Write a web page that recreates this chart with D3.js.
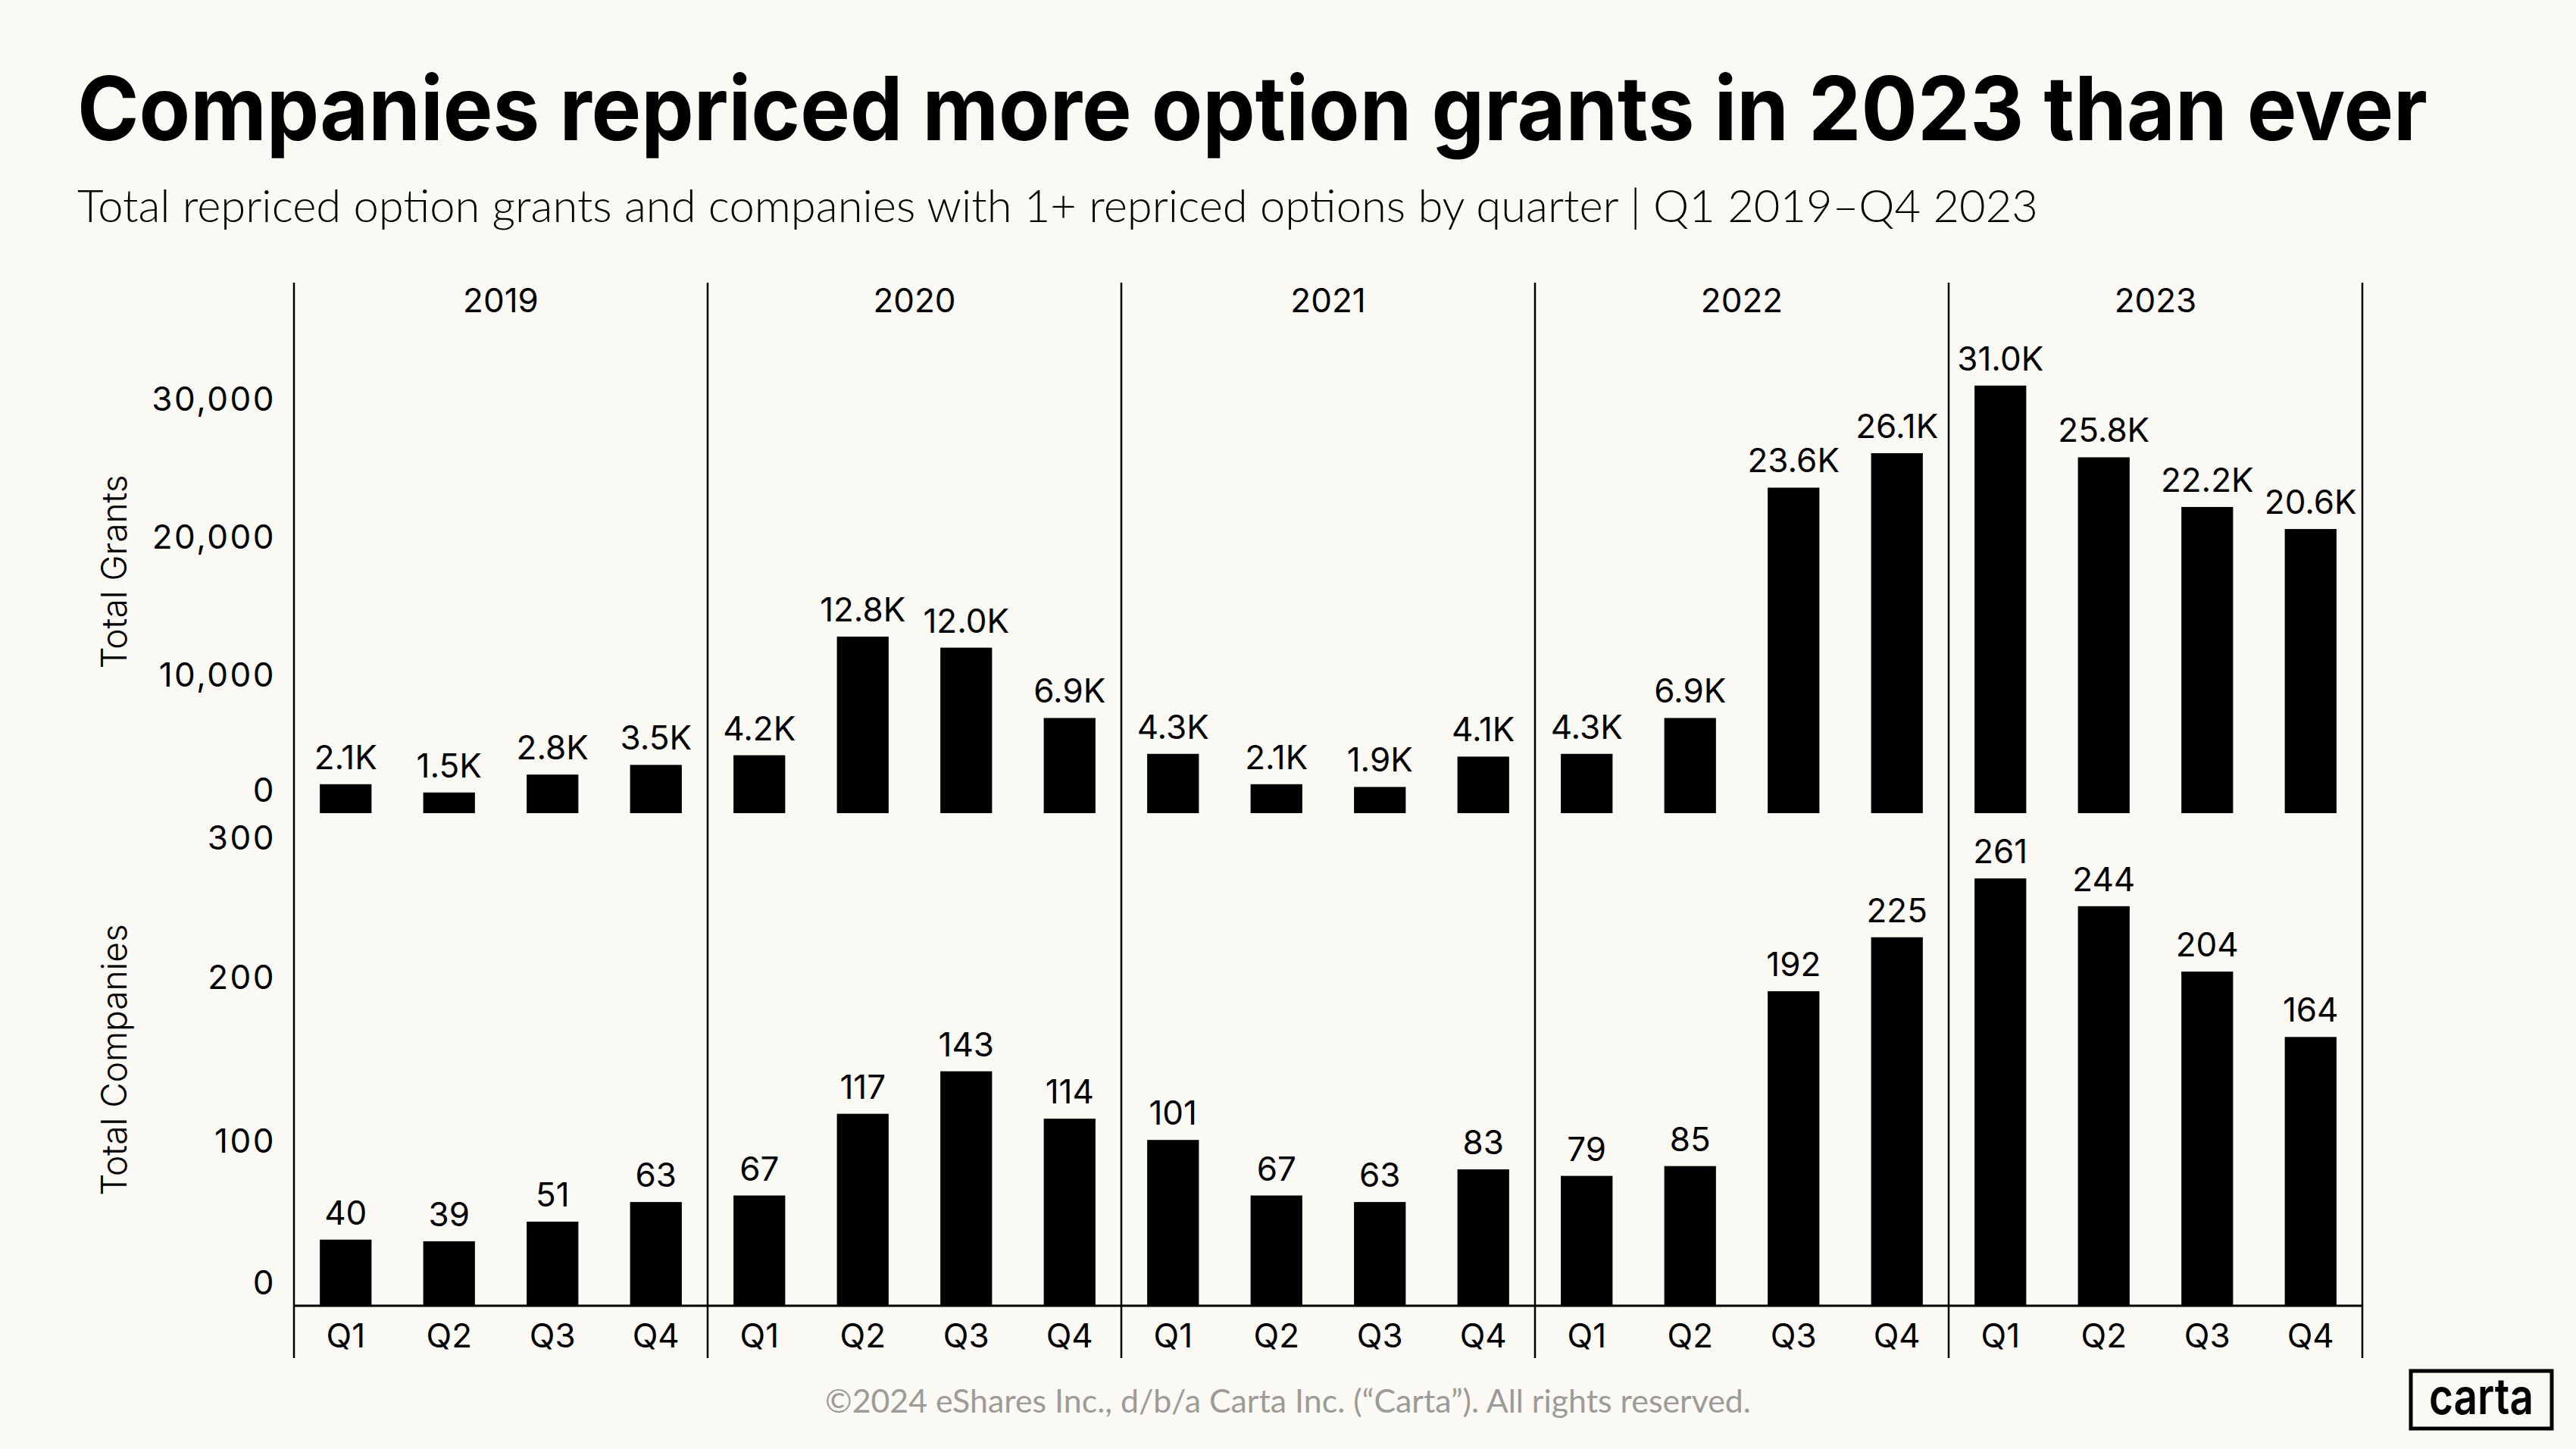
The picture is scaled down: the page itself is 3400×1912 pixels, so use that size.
<!DOCTYPE html>
<html>
<head>
<meta charset="utf-8">
<script src="https://cdn.jsdelivr.net/npm/d3@7"></script>
<style>
  body { margin: 0; background: #fbf9f3; }
  svg { display: block; }
  text { font-family: Inter, "DejaVu Sans", sans-serif; fill: #000; }
</style>
</head>
<body>
<svg id="chart" width="3400" height="1912"></svg>
<script>
"use strict";

const W = 3400;
const H = 1912;

const leftX = 388;
const rightX = 3118;
const topLineY = 373;
const grantsBaseY = 1073;
const grantsTopY = 436;
const compBaseY = 1722;
const compTopY = 1075;
const bottomLineY = 1792;

// data
const years = ["2019", "2020", "2021", "2022", "2023"];
const quarters = ["Q1", "Q2", "Q3", "Q4"];
const grants = [2100, 1500, 2800, 3500,
                4200, 12800, 12000, 6900,
                4300, 2100, 1900, 4100,
                4300, 6900, 23600, 26100,
                31000, 25800, 22200, 20600];
const companies = [40, 39, 51, 63,
                   67, 117, 143, 114,
                   101, 67, 63, 83,
                   79, 85, 192, 225,
                   261, 244, 204, 164];
const grantTicks = [0, 10000, 20000, 30000];
const companyTicks = [0, 100, 200, 300];

const titleText = "Companies repriced more option grants in 2023 than ever";
const subtitleText = "Total repriced option grants and companies with 1+ repriced options by quarter  |  Q1 2019\u2013Q4 2023";
const footerText = "\u00a92024 eShares Inc., d/b/a Carta Inc. (\u201cCarta\u201d). All rights reserved.";

window.addEventListener("load", init);

var xYear, xQuarter, yGrants, yCompanies;

function rows() {
    let out = [];
    years.forEach(function(y, i) {
        quarters.forEach(function(q, j) {
            let k = i * 4 + j;
            out.push({year: y, quarter: q, grants: grants[k], companies: companies[k]});
        });
    });
    return out;
}

function barX(d) {
    return xYear(d.year) + xQuarter(d.quarter);
}

// squeeze or stretch a text to a measured width
function fitText(sel, width) {
    let w = sel.node().getComputedTextLength();
    if (Math.abs(w - width) > 2) {
        sel.attr("textLength", width).attr("lengthAdjust", "spacingAndGlyphs");
    }
}

function drawHeader(svg) {
    let t = svg.append("text")
        .attr("x", 102)
        .attr("y", 185)
        .style("font-size", "117px")
        .style("font-weight", 700)
        .text(titleText);
    fitText(t, 3102);

    let s = svg.append("text")
        .attr("x", 102)
        .attr("y", 293)
        .style("font-family", "Lato, sans-serif")
        .style("font-size", "60px")
        .style("font-weight", 300)
        .text(subtitleText);
    fitText(s, 2588);
}

function drawFrame(svg) {
    let edges = years.map(y => xYear(y)).concat([rightX]);
    svg.append("g")
        .selectAll("line")
        .data(edges)
        .join("line")
            .attr("x1", d => d)
            .attr("x2", d => d)
            .attr("y1", topLineY)
            .attr("y2", bottomLineY)
            .style("stroke", "#000")
            .style("stroke-width", 2.5);

    svg.append("line")
        .attr("x1", leftX)
        .attr("x2", rightX)
        .attr("y1", compBaseY + 1)
        .attr("y2", compBaseY + 1)
        .style("stroke", "#000")
        .style("stroke-width", 3);

    svg.append("g")
        .selectAll("text")
        .data(years)
        .join("text")
            .attr("x", d => xYear(d) + xYear.bandwidth() / 2)
            .attr("y", 412)
            .attr("text-anchor", "middle")
            .style("font-size", "44px")
            .text(d => d);
}

function drawAxes(svg) {
    let ga = svg.append("g")
        .attr("transform", "translate(" + leftX + ",0)")
        .call(d3.axisLeft(yGrants)
            .tickValues(grantTicks)
            .tickFormat(d3.format(","))
            .tickSize(0)
            .tickPadding(24));
    let ca = svg.append("g")
        .attr("transform", "translate(" + leftX + ",0)")
        .call(d3.axisLeft(yCompanies)
            .tickValues(companyTicks)
            .tickFormat(d3.format(","))
            .tickSize(0)
            .tickPadding(24));

    [ga, ca].forEach(function(g) {
        g.select(".domain").remove();
        g.selectAll("text")
            .style("font-family", "Inter, sans-serif")
            .style("font-size", "44px")
            .style("letter-spacing", "2.5px")
            .attr("fill", "#000");
        g.attr("font-family", null).attr("font-size", null);
    });
    // end labels pushed inside the panel, like a flush axis
    ga.selectAll(".tick text").filter(d => d === 0).attr("dy", "-0.36em");
    ca.selectAll(".tick text").filter(d => d === 0).attr("dy", "-0.32em");
    ca.selectAll(".tick text").filter(d => d === 300).attr("dy", "1.04em");

    years.forEach(function(y) {
        let qa = svg.append("g")
            .attr("transform", "translate(" + xYear(y) + "," + compBaseY + ")")
            .call(d3.axisBottom(xQuarter).tickSize(0).tickPadding(25));
        qa.select(".domain").remove();
        qa.selectAll("text")
            .style("font-family", "Inter, sans-serif")
            .style("font-size", "44px")
            .attr("fill", "#000");
    });

    svg.append("text")
        .attr("transform", "translate(167," + ((grantsBaseY + grantsTopY) / 2) + ") rotate(-90)")
        .attr("text-anchor", "middle")
        .style("font-size", "46px")
        .style("font-weight", 300)
        .text("Total Grants");
    svg.append("text")
        .attr("transform", "translate(167," + ((compBaseY + compTopY) / 2) + ") rotate(-90)")
        .attr("text-anchor", "middle")
        .style("font-size", "46px")
        .style("font-weight", 300)
        .text("Total Companies");
}

function drawBars(svg, data) {
    let kFmt = d => d3.format(".1f")(d / 1000) + "K";

    svg.append("g")
        .selectAll("rect")
        .data(data)
        .join("rect")
            .attr("x", d => barX(d))
            .attr("y", d => yGrants(d.grants))
            .attr("width", xQuarter.bandwidth())
            .attr("height", d => grantsBaseY - yGrants(d.grants))
            .style("fill", "#000");

    svg.append("g")
        .selectAll("text")
        .data(data)
        .join("text")
            .attr("x", d => barX(d) + xQuarter.bandwidth() / 2)
            .attr("y", d => yGrants(d.grants) - 20)
            .attr("text-anchor", "middle")
            .style("font-size", "44px")
            .text(d => kFmt(d.grants));

    svg.append("g")
        .selectAll("rect")
        .data(data)
        .join("rect")
            .attr("x", d => barX(d))
            .attr("y", d => yCompanies(d.companies))
            .attr("width", xQuarter.bandwidth())
            .attr("height", d => compBaseY - yCompanies(d.companies))
            .style("fill", "#000");

    svg.append("g")
        .selectAll("text")
        .data(data)
        .join("text")
            .attr("x", d => barX(d) + xQuarter.bandwidth() / 2)
            .attr("y", d => yCompanies(d.companies) - 20)
            .attr("text-anchor", "middle")
            .style("font-size", "44px")
            .text(d => d.companies);
}

function drawFooter(svg) {
    let f = svg.append("text")
        .attr("x", 1700)
        .attr("y", 1864)
        .attr("text-anchor", "middle")
        .style("font-family", "Lato, sans-serif")
        .style("font-size", "42px")
        .style("fill", "#9d9b97")
        .text(footerText);
    fitText(f, 1222);

    svg.append("rect")
        .attr("x", 3182)
        .attr("y", 1809)
        .attr("width", 186)
        .attr("height", 76)
        .style("fill", "none")
        .style("stroke", "#000")
        .style("stroke-width", 5);
    let c = svg.append("text")
        .attr("x", 3275)
        .attr("y", 1866)
        .attr("text-anchor", "middle")
        .style("font-size", "66px")
        .style("font-weight", 600)
        .text("carta");
    fitText(c, 138);
}

function init() {
    const svg = d3.select("svg#chart");

    svg.append("rect")
        .attr("width", W)
        .attr("height", H)
        .style("fill", "#fbf9f3");

    // data to SVG coordinate transforms
    xYear = d3.scaleBand()
        .domain(years)
        .range([leftX, rightX]);
    xQuarter = d3.scaleBand()
        .domain(quarters)
        .range([0, xYear.bandwidth()])
        .paddingInner(0.5)
        .paddingOuter(0.25);
    yGrants = d3.scaleLinear()
        .domain([0, 35000])
        .range([grantsBaseY, grantsTopY]);
    yCompanies = d3.scaleLinear()
        .domain([0, 300])
        .range([compBaseY, compTopY]);

    drawHeader(svg);
    drawFrame(svg);
    drawAxes(svg);
    drawBars(svg, rows());
    drawFooter(svg);
}
</script>
</body>
</html>
